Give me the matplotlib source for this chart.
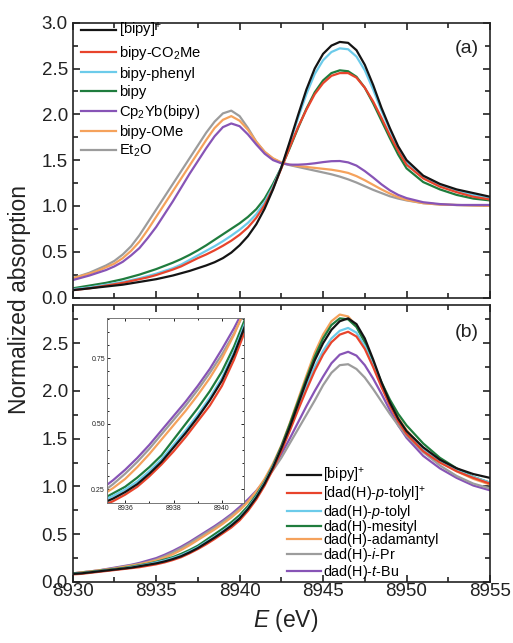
import numpy as np
import matplotlib
matplotlib.use('Agg')
from matplotlib import pyplot as plt
from matplotlib.ticker import MultipleLocator, FormatStrFormatter

plt.rcParams['font.family'] = ['Liberation Sans', 'DejaVu Sans']
plt.rcParams['mathtext.fontset'] = 'custom'
plt.rcParams['mathtext.rm'] = 'Liberation Sans'
plt.rcParams['mathtext.it'] = 'Liberation Sans:italic'

# energy grid (eV), shared by all curves: 0.5 eV up to 8950, then 1 eV
energy = [8930, 8930.5, 8931, 8931.5, 8932, 8932.5, 8933, 8933.5, 8934, 8934.5,
          8935, 8935.5, 8936, 8936.5, 8937, 8937.5, 8938, 8938.5, 8939, 8939.5,
          8940, 8940.5, 8941, 8941.5, 8942, 8942.5, 8943, 8943.5, 8944, 8944.5,
          8945, 8945.5, 8946, 8946.5, 8947, 8947.5, 8948, 8948.5, 8949, 8949.5,
          8950, 8951, 8952, 8953, 8954, 8955]

# ---- panel (a) ----
a_labels = ['[bipy]$^{+}$', 'bipy-CO$_2$Me', 'bipy-phenyl', 'bipy', 'Cp$_2$Yb(bipy)',
            'bipy-OMe', 'Et$_2$O']
a_bipy_plus = [0.08, 0.09, 0.10, 0.11, 0.12, 0.13, 0.14, 0.155, 0.17, 0.185,
               0.20, 0.22, 0.24, 0.265, 0.29, 0.32, 0.35, 0.385, 0.43, 0.49,
               0.57, 0.67, 0.80, 0.97, 1.18, 1.42, 1.70, 1.99, 2.27, 2.50,
               2.66, 2.75, 2.79, 2.78, 2.70, 2.54, 2.32, 2.07, 1.85, 1.65,
               1.50, 1.33, 1.24, 1.18, 1.14, 1.10]
a_co2me = [0.08, 0.09, 0.10, 0.115, 0.13, 0.145, 0.16, 0.18, 0.20, 0.22,
           0.245, 0.275, 0.305, 0.34, 0.385, 0.43, 0.47, 0.515, 0.565, 0.62,
           0.685, 0.765, 0.87, 1.01, 1.19, 1.41, 1.64, 1.86, 2.05, 2.22,
           2.34, 2.42, 2.45, 2.45, 2.40, 2.29, 2.14, 1.96, 1.77, 1.60,
           1.45, 1.30, 1.21, 1.15, 1.10, 1.07]
a_phenyl = [0.09, 0.10, 0.11, 0.125, 0.14, 0.155, 0.17, 0.19, 0.21, 0.235,
            0.26, 0.29, 0.32, 0.36, 0.41, 0.46, 0.51, 0.56, 0.615, 0.675,
            0.74, 0.815, 0.91, 1.04, 1.21, 1.42, 1.68, 1.96, 2.22, 2.44,
            2.59, 2.68, 2.72, 2.71, 2.63, 2.48, 2.27, 2.04, 1.83, 1.63,
            1.48, 1.32, 1.23, 1.17, 1.12, 1.08]
a_bipy = [0.10, 0.115, 0.13, 0.145, 0.16, 0.18, 0.20, 0.225, 0.25, 0.28,
          0.31, 0.345, 0.38, 0.42, 0.465, 0.515, 0.57, 0.63, 0.69, 0.75,
          0.81, 0.88, 0.965, 1.08, 1.24, 1.42, 1.63, 1.85, 2.06, 2.24,
          2.37, 2.45, 2.48, 2.47, 2.41, 2.29, 2.12, 1.93, 1.74, 1.56,
          1.41, 1.26, 1.18, 1.12, 1.08, 1.06]
a_cp2yb = [0.19, 0.215, 0.24, 0.27, 0.30, 0.34, 0.39, 0.46, 0.54, 0.65,
           0.77, 0.91, 1.05, 1.20, 1.35, 1.49, 1.63, 1.76, 1.86, 1.90,
           1.87, 1.78, 1.67, 1.57, 1.50, 1.465, 1.45, 1.45, 1.455, 1.465,
           1.478, 1.488, 1.49, 1.475, 1.44, 1.38, 1.31, 1.235, 1.17, 1.12,
           1.085, 1.04, 1.02, 1.01, 1.01, 1.01]
a_ome = [0.21, 0.235, 0.26, 0.29, 0.33, 0.37, 0.43, 0.51, 0.61, 0.74,
         0.88, 1.02, 1.16, 1.30, 1.44, 1.58, 1.72, 1.85, 1.94, 1.98,
         1.93, 1.83, 1.70, 1.59, 1.52, 1.475, 1.45, 1.435, 1.425, 1.415,
         1.405, 1.395, 1.38, 1.36, 1.325, 1.28, 1.23, 1.18, 1.135, 1.095,
         1.065, 1.03, 1.015, 1.01, 1.005, 1.0]
a_et2o = [0.21, 0.24, 0.27, 0.31, 0.35, 0.40, 0.47, 0.56, 0.68, 0.82,
          0.96, 1.10, 1.24, 1.38, 1.52, 1.66, 1.80, 1.92, 2.01, 2.04,
          1.98, 1.85, 1.70, 1.59, 1.515, 1.47, 1.445, 1.425, 1.405, 1.385,
          1.365, 1.345, 1.32, 1.29, 1.255, 1.215, 1.175, 1.14, 1.105, 1.08,
          1.06, 1.03, 1.015, 1.01, 1.005, 1.0]

# ---- panel (b) ----
b_labels = ['[bipy]$^{+}$', '[dad(H)-$p$-tolyl]$^{+}$', 'dad(H)-$p$-tolyl',
            'dad(H)-mesityl', 'dad(H)-adamantyl', 'dad(H)-$i$-Pr', 'dad(H)-$t$-Bu']
b_bipy_plus = [0.085, 0.09, 0.10, 0.11, 0.12, 0.13, 0.14, 0.15, 0.165, 0.18,
               0.195, 0.215, 0.24, 0.27, 0.31, 0.355, 0.41, 0.465, 0.525, 0.59,
               0.665, 0.765, 0.885, 1.03, 1.20, 1.40, 1.62, 1.86, 2.10, 2.32,
               2.50, 2.64, 2.73, 2.76, 2.70, 2.55, 2.33, 2.09, 1.88, 1.71,
               1.58, 1.41, 1.28, 1.19, 1.13, 1.09]
b_tolyl_plus = [0.08, 0.085, 0.095, 0.105, 0.115, 0.125, 0.135, 0.145, 0.155, 0.17,
                0.185, 0.205, 0.23, 0.26, 0.30, 0.345, 0.395, 0.45, 0.51, 0.57,
                0.645, 0.745, 0.865, 1.01, 1.18, 1.37, 1.58, 1.80, 2.01, 2.21,
                2.38, 2.51, 2.59, 2.62, 2.57, 2.44, 2.25, 2.04, 1.85, 1.68,
                1.55, 1.37, 1.25, 1.16, 1.09, 1.03]
b_tolyl = [0.085, 0.09, 0.10, 0.11, 0.12, 0.13, 0.14, 0.155, 0.17, 0.185,
           0.205, 0.225, 0.25, 0.28, 0.32, 0.365, 0.42, 0.475, 0.535, 0.60,
           0.675, 0.775, 0.895, 1.04, 1.21, 1.40, 1.61, 1.83, 2.05, 2.25,
           2.42, 2.55, 2.63, 2.66, 2.61, 2.47, 2.27, 2.06, 1.86, 1.70,
           1.57, 1.39, 1.27, 1.17, 1.10, 1.04]
b_mesityl = [0.09, 0.095, 0.105, 0.115, 0.125, 0.135, 0.145, 0.16, 0.175, 0.19,
             0.21, 0.235, 0.26, 0.295, 0.335, 0.38, 0.44, 0.50, 0.56, 0.625,
             0.70, 0.795, 0.91, 1.05, 1.22, 1.42, 1.65, 1.89, 2.13, 2.36,
             2.55, 2.69, 2.76, 2.75, 2.67, 2.51, 2.30, 2.09, 1.91, 1.76,
             1.64, 1.45, 1.30, 1.19, 1.10, 1.04]
b_adamantyl = [0.09, 0.10, 0.11, 0.12, 0.13, 0.14, 0.155, 0.17, 0.185, 0.205,
               0.225, 0.255, 0.29, 0.335, 0.385, 0.44, 0.495, 0.55, 0.61, 0.675,
               0.75, 0.84, 0.95, 1.08, 1.24, 1.43, 1.66, 1.91, 2.16, 2.40,
               2.59, 2.73, 2.80, 2.78, 2.68, 2.51, 2.29, 2.07, 1.88, 1.72,
               1.59, 1.40, 1.26, 1.16, 1.08, 1.02]
b_ipr = [0.09, 0.10, 0.11, 0.12, 0.13, 0.145, 0.16, 0.175, 0.19, 0.21,
         0.235, 0.27, 0.31, 0.355, 0.405, 0.46, 0.515, 0.57, 0.63, 0.695,
         0.765, 0.845, 0.94, 1.05, 1.17, 1.30, 1.45, 1.60, 1.75, 1.90,
         2.06, 2.19, 2.27, 2.28, 2.23, 2.14, 2.02, 1.89, 1.76, 1.64,
         1.53, 1.36, 1.22, 1.11, 1.03, 0.98]
b_tbu = [0.09, 0.10, 0.11, 0.12, 0.135, 0.15, 0.165, 0.18, 0.20, 0.225,
         0.25, 0.285, 0.325, 0.37, 0.42, 0.475, 0.53, 0.585, 0.645, 0.71,
         0.785, 0.865, 0.955, 1.06, 1.19, 1.34, 1.50, 1.67, 1.84, 2.00,
         2.15, 2.29, 2.38, 2.41, 2.37, 2.27, 2.13, 1.97, 1.80, 1.64,
         1.51, 1.32, 1.19, 1.09, 1.01, 0.96]

a_colors = ['#141414', '#e8442c', '#6ccbea', '#1f7c3d', '#8754b6', '#f5a25c', '#9c9c9c']
b_colors = ['#141414', '#e8442c', '#6ccbea', '#1f7c3d', '#f5a25c', '#9c9c9c', '#8754b6']

a_series = [a_bipy_plus, a_co2me, a_phenyl, a_bipy, a_cp2yb, a_ome, a_et2o]
b_series = [b_bipy_plus, b_tolyl_plus, b_tolyl, b_mesityl, b_adamantyl, b_ipr, b_tbu]

W, H = 513, 643
fig = plt.figure(figsize=(W / 100, H / 100), dpi=100)
L, R = 72.7, 490
ax1 = fig.add_axes([L / W, 1 - 297.5 / H, (R - L) / W, (297.5 - 22.7) / H])
ax2 = fig.add_axes([L / W, 1 - 582 / H, (R - L) / W, (582 - 305) / H])
ins = fig.add_axes([107 / W, 1 - 503.3 / H, (243.7 - 107) / W, (503.3 - 318.3) / H])


def style(ax, size, major, minor, lw):
    ax.tick_params(which='both', direction='in', top=True, right=True, width=lw,
                   labelsize=size, colors='#222222')
    ax.tick_params(which='major', length=major)
    ax.tick_params(which='minor', length=minor)
    for s in ax.spines.values():
        s.set_linewidth(lw)
        s.set_color('#222222')


# draw in reverse so the first series ends on top
for i in range(6, -1, -1):
    ax1.plot(energy, a_series[i], color=a_colors[i], lw=1.6, label=a_labels[i])
for i in range(6, -1, -1):
    ax2.plot(energy, b_series[i], color=b_colors[i], lw=1.6, label=b_labels[i])
    ins.plot(energy, b_series[i], color=b_colors[i], lw=1.6)

for ax in (ax1, ax2):
    ax.set_xlim(8930, 8955)
    ax.xaxis.set_major_locator(MultipleLocator(5))
    ax.xaxis.set_minor_locator(MultipleLocator(2.5))
    ax.yaxis.set_major_locator(MultipleLocator(0.5))
    ax.yaxis.set_minor_locator(MultipleLocator(0.25))
    ax.yaxis.set_major_formatter(FormatStrFormatter('%.1f'))
    style(ax, 13.5, 5, 3.5, 1.2)

ax1.set_ylim(0, 3.0)
ax2.set_ylim(0, 2.9)
ax1.tick_params(labelbottom=False)
ax2.tick_params(axis='x', pad=1)

ins.set_xlim(8935.25, 8940.9)
ins.set_ylim(0.197, 0.903)
ins.xaxis.set_major_locator(MultipleLocator(2))
ins.xaxis.set_minor_locator(MultipleLocator(1))
ins.yaxis.set_major_locator(MultipleLocator(0.25))
ins.yaxis.set_minor_locator(MultipleLocator(0.05))
ins.yaxis.set_major_formatter(FormatStrFormatter('%.2f'))
style(ins, 5, 2.5, 1.5, 0.7)
ins.tick_params(pad=1.5)
for s in ins.spines.values():
    s.set_color('#777777')

# legends in the original order
h, l = ax1.get_legend_handles_labels()
ax1.legend(h[::-1], l[::-1], loc='upper left', bbox_to_anchor=(0.02, 1.005),
           frameon=False, fontsize=10.6, handlelength=2.4, handletextpad=0.15,
           labelspacing=0.28, borderpad=0, borderaxespad=0)
h, l = ax2.get_legend_handles_labels()
ax2.legend(h[::-1], l[::-1], loc='lower left', bbox_to_anchor=(0.512, 0.0),
           frameon=False, fontsize=10.4, handlelength=2.35, handletextpad=0.15,
           labelspacing=-0.06, borderpad=0.05, borderaxespad=0)

ax1.text(0.944, 0.905, '(a)', transform=ax1.transAxes, fontsize=14,
         ha='center', va='center', color='#222222')
ax2.text(0.944, 0.902, '(b)', transform=ax2.transAxes, fontsize=14,
         ha='center', va='center', color='#222222')

fig.text(19.5 / W, 1 - 300 / H, 'Normalized absorption', rotation=90,
         ha='center', va='center', fontsize=16.5, color='#222222')
fig.text(286 / W, 1 - 620 / H, '$E$ (eV)', ha='center', va='center',
         fontsize=16.5, color='#222222')

fig.savefig('out.png', dpi=100)
